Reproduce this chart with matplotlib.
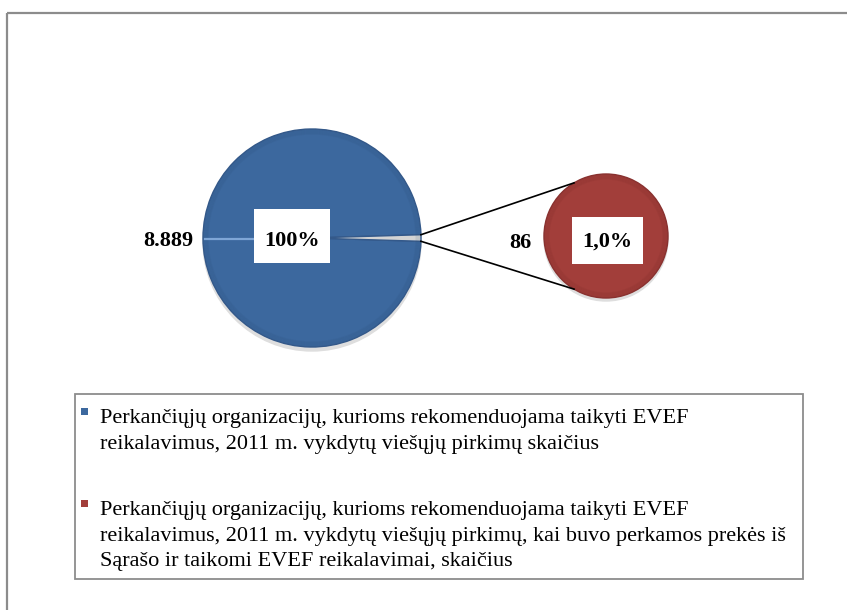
import numpy as np
import matplotlib
matplotlib.use("Agg")
import matplotlib.pyplot as plt
from matplotlib.patches import Rectangle, Circle

plt.rcParams['font.family'] = ['Liberation Serif', 'DejaVu Serif']

# data
total = 8889
part = 86
big_values = [total, part]
small_values = [part]
big_label = "8.889"
big_pct = "100%"
small_label = "86"
small_pct = "1,0%"
legend_labels = [
    ["Perkančiųjų organizacijų, kurioms rekomenduojama taikyti EVEF",
     "reikalavimus, 2011 m. vykdytų viešųjų pirkimų skaičius"],
    ["Perkančiųjų organizacijų, kurioms rekomenduojama taikyti EVEF",
     "reikalavimus, 2011 m. vykdytų viešųjų pirkimų, kai buvo perkamos prekės iš",
     "Sąrašo ir taikomi EVEF reikalavimai, skaičius"],
]
blue = '#3c689e'
red = '#a23e3a'
sliver = '#d4d4d4'

W, H = 847, 610
fig = plt.figure(figsize=(W / 100, H / 100), dpi=100)
ax = fig.add_axes([0, 0, 1, 1])

# pie geometry (pixel coords, y down)
bcx, bcy, br = 312, 238, 109
scx, scy, sr = 606, 236, 62

# shadows
ax.add_patch(Circle((bcx, bcy + 4), br, color='#dedede', zorder=1))
ax.add_patch(Circle((scx, scy + 3), sr, color='#dedede', zorder=1))

ang = 360 * part / sum(big_values)
ax.pie(big_values, colors=[blue, sliver], center=(bcx, bcy), radius=br,
       startangle=ang / 2, counterclock=True,
       wedgeprops=dict(edgecolor='#34598a', linewidth=1.0, zorder=2))
ax.pie(small_values, colors=[red], center=(scx, scy), radius=sr,
       wedgeprops=dict(edgecolor='#8a3230', linewidth=1.0, zorder=2))

# soft bevel at the rim
for k in range(5):
    ax.add_patch(Circle((bcx, bcy), br - 1 - k, fill=False,
                        ec='#1f3d63', lw=1, alpha=0.07, zorder=3))
    ax.add_patch(Circle((scx, scy), sr - 1 - k, fill=False,
                        ec='#5a1d1b', lw=1, alpha=0.07, zorder=3))
# light seam on left half of big pie
ax.plot([bcx - br + 2, bcx], [bcy + 1, bcy + 1], color='#7fa6d6', lw=1.6, zorder=4)

# connector lines from the sliver to the small pie
a = np.radians(ang / 2)
p_top = (bcx + br * np.cos(a), bcy - br * np.sin(a))
p_bot = (bcx + br * np.cos(a), bcy + br * np.sin(a))
t = np.radians(121)
q_top = (scx + sr * np.cos(t), scy - sr * np.sin(t))
q_bot = (scx + sr * np.cos(t), scy + sr * np.sin(t))
ax.plot([p_top[0], q_top[0]], [p_top[1], q_top[1]], color='black', lw=1.2, zorder=5)
ax.plot([p_bot[0], q_bot[0]], [p_bot[1], q_bot[1]], color='black', lw=1.2, zorder=5)

# data labels
ax.text(bcx - br - 10, 241, big_label, ha='right', va='center',
        fontsize=16, fontweight='bold', zorder=6)
ax.add_patch(Rectangle((254, 209), 76, 54, fc='white', ec='none', zorder=6))
ax.text(292, 241, big_pct, ha='center', va='center', fontsize=16,
        fontweight='bold', zorder=7)
ax.text(scx - sr - 13, 243, small_label, ha='right', va='center',
        fontsize=16, fontweight='bold', zorder=6)
ax.add_patch(Rectangle((572, 217), 71, 47, fc='white', ec='none', zorder=6))
ax.text(607, 242, small_pct, ha='center', va='center', fontsize=16,
        fontweight='bold', zorder=7)

# outer chart frame (cut by image edge)
ax.add_patch(Rectangle((7, 13), 900, 700, fill=False, ec='#8c8c8c', lw=1.6, zorder=0))

# legend
ax.add_patch(Rectangle((75, 394), 728, 185, fill=False, ec='#8c8c8c', lw=1.3, zorder=6))
first_baselines = [423, 515]
for i, lines in enumerate(legend_labels):
    col = [blue, red][i]
    y0 = first_baselines[i]
    ax.add_patch(Rectangle((81, y0 - 15), 7, 7, fc=col, ec='none', zorder=7))
    for j, ln in enumerate(lines):
        ax.text(100, y0 + j * 25.5, ln, ha='left', va='baseline',
                fontsize=16, zorder=7)

ax.set_xlim(0, W)
ax.set_ylim(H, 0)
ax.set_aspect('auto')
ax.axis('off')

fig.savefig('out.png', dpi=100, facecolor='white')
